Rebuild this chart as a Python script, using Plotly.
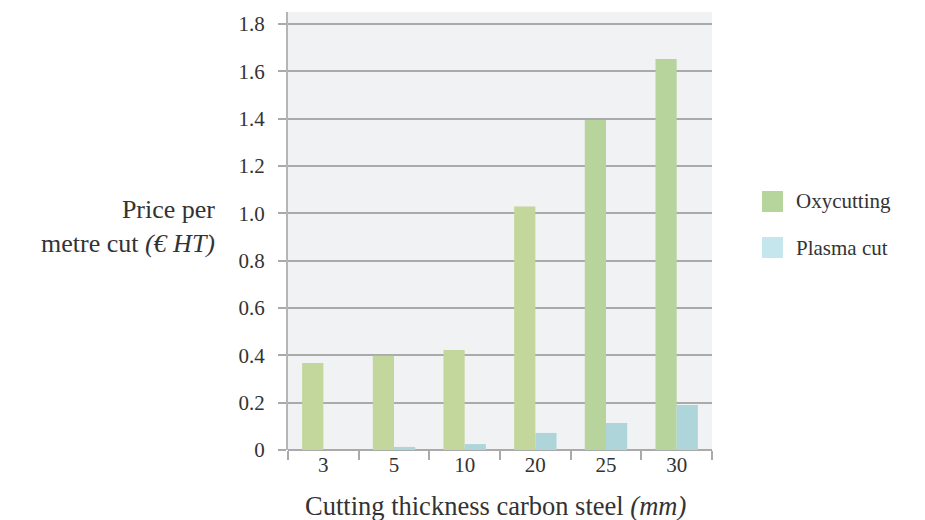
import plotly.graph_objects as go

categories = ["3", "5", "10", "20", "25", "30"]
oxycutting = [0.367, 0.398, 0.422, 1.028, 1.394, 1.652]
plasma_cut = [0.0, 0.013, 0.025, 0.072, 0.114, 0.19]
y_ticks = [0, 0.2, 0.4, 0.6, 0.8, 1.0, 1.2, 1.4, 1.6, 1.8]
y_tick_labels = ["0", "0.2", "0.4", "0.6", "0.8", "1.0", "1.2", "1.4", "1.6", "1.8"]

oxy_colors = ["#c3d69b", "#c3d69b", "#c3d69b", "#c3d69b", "#b6d49b", "#b6d49b"]
plasma_color = "#aed6da"
FONT = "Liberation Serif, Times New Roman, serif"
TXT = "#333333"

fig = go.Figure()
fig.add_trace(go.Bar(x=categories, y=oxycutting, name="Oxycutting",
                     marker=dict(color=oxy_colors, line=dict(width=0)), showlegend=False))
fig.add_trace(go.Bar(x=categories, y=plasma_cut, name="Plasma cut",
                     marker=dict(color=plasma_color, line=dict(width=0)), showlegend=False))

fig.update_layout(
    width=917, height=512,
    margin=dict(l=280, r=213, t=4, b=70),
    paper_bgcolor="white", plot_bgcolor="#f0f2f4",
    barmode="group", bargap=0.4, bargroupgap=0,
    font=dict(family=FONT, size=21, color=TXT),
    xaxis=dict(type="category", tickson="boundaries", ticks="outside", ticklen=9,
               tickcolor="#aaaaaa", tickwidth=1.5, showgrid=False, showline=False,
               tickfont=dict(family=FONT, size=21, color=TXT)),
    yaxis=dict(range=[0, 1.85], tickvals=y_ticks, ticktext=y_tick_labels,
               ticks="outside", ticklen=8, tickcolor="#aaaaaa", tickwidth=1.5,
               showgrid=True, gridcolor="#aaaaaa", gridwidth=1.5,
               showline=True, linecolor="#b5b5b5", linewidth=2,
               zeroline=True, zerolinecolor="#aaaaaa", zerolinewidth=1.5,
               ticklabelstandoff=9,
               tickfont=dict(family=FONT, size=21, color=TXT)),
)

fig.add_annotation(text="Price per<br>metre cut <i>(€ HT)</i>", xref="paper", yref="paper",
                   x=-0.1675, y=0.511, xanchor="right", yanchor="middle", align="right",
                   showarrow=False, font=dict(family=FONT, size=26, color=TXT))
fig.add_annotation(text="Cutting thickness carbon steel <i>(mm)</i>", xref="paper", yref="paper",
                   x=0.49, y=-0.127, xanchor="center", yanchor="middle",
                   showarrow=False, font=dict(family=FONT, size=26.5, color=TXT))

legend_items = [("Oxycutting", "#b6d59c", 0.5913, 0.5434, 0.5674),
                ("Plasma cut", "#c6e6ee", 0.4863, 0.4384, 0.4623)]
for name, col, y0, y1, yt in legend_items:
    fig.add_shape(type="rect", xref="paper", yref="paper", x0=1.1179, x1=1.1675,
                  y0=y1, y1=y0, fillcolor=col, line=dict(width=0))
    fig.add_annotation(text=name, xref="paper", yref="paper", x=1.193, y=yt,
                       xanchor="left", yanchor="middle", showarrow=False,
                       font=dict(family=FONT, size=21, color=TXT))

fig.write_html("out.html")
